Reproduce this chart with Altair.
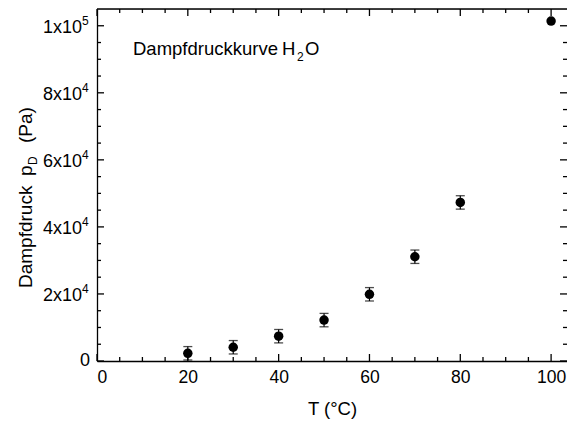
import altair as alt
import pandas as pd

# ---- data ----
T = [20, 30, 40, 50, 60, 70, 80, 100]
p = [2300, 4100, 7400, 12200, 19900, 31100, 47300, 101400]
err = [2000, 2000, 2000, 2000, 2000, 2000, 2000, 0]

x_major = [0, 20, 40, 60, 80, 100]
x_minor = [5, 10, 15, 25, 30, 35, 45, 50, 55, 65, 70, 75, 85, 90, 95]
y_major = [0, 20000, 40000, 60000, 80000, 100000]
y_minor = [5000, 10000, 15000, 25000, 30000, 35000, 45000, 50000, 55000,
           65000, 70000, 75000, 85000, 90000, 95000]
y_label_base = ["0", "2x10", "4x10", "6x10", "8x10", "1x10"]
y_label_exp = ["", "4", "4", "4", "4", "5"]

W, H = 470, 352
FONT = "Liberation Sans"

df = pd.DataFrame({"T": T, "p": p, "lo": [a - b for a, b in zip(p, err)],
                   "hi": [a + b for a, b in zip(p, err)], "err": err})
df_err = df[df["err"] > 0]
df_xmaj = pd.DataFrame({"T": x_major})
df_xmin = pd.DataFrame({"T": x_minor})
df_ymaj = pd.DataFrame({"p": y_major})
df_ymin = pd.DataFrame({"p": y_minor})
df_ylab = pd.DataFrame({"p": y_major, "base": y_label_base, "exp": y_label_exp})

xs = alt.Scale(domain=[0, 103.5], nice=False, zero=False)
ys = alt.Scale(domain=[0, 105000], nice=False)

xaxis = alt.Axis(values=x_major, format="d", ticks=False, grid=False,
                 labelFontSize=17.5, labelPadding=7, labelFont=FONT, labelColor="black",
                 title="T  (°C)", titleFontSize=18.5, titleFontWeight="normal",
                 titleFont=FONT, titleColor="black", titleY=53, titleBaseline="alphabetic",
                 domainColor="black", domainWidth=1.3)
yaxis = alt.Axis(labels=False, ticks=False, grid=False, title=None,
                 domainColor="black", domainWidth=1.3)

X = lambda: alt.X("T:Q", scale=xs, axis=xaxis)
Y = lambda: alt.Y("p:Q", scale=ys, axis=yaxis)

points = alt.Chart(df).mark_circle(size=90, color="black", opacity=1).encode(x=X(), y=Y())
bars = alt.Chart(df_err).mark_rule(color="black", strokeWidth=1.2).encode(
    x=X(), y=alt.Y("lo:Q", scale=ys, axis=yaxis), y2="hi:Q")
cap_lo = alt.Chart(df_err).mark_tick(color="black", orient="horizontal", size=9, thickness=1.3).encode(
    x=X(), y=alt.Y("lo:Q", scale=ys, axis=yaxis))
cap_hi = alt.Chart(df_err).mark_tick(color="black", orient="horizontal", size=9, thickness=1.3).encode(
    x=X(), y=alt.Y("hi:Q", scale=ys, axis=yaxis))

tick_style = dict(color="black", strokeWidth=1.3)
ticks = []
for d, ln in ((df_xmaj, 7), (df_xmin, 4)):
    ticks.append(alt.Chart(d).mark_rule(**tick_style).encode(
        x=X(), y=alt.value(H), y2=alt.value(H - ln)))
    ticks.append(alt.Chart(d).mark_rule(**tick_style).encode(
        x=X(), y=alt.value(0), y2=alt.value(ln)))
for d, ln in ((df_ymaj, 7), (df_ymin, 4)):
    ticks.append(alt.Chart(d).mark_rule(**tick_style).encode(
        y=Y(), x=alt.value(0), x2=alt.value(ln)))
    ticks.append(alt.Chart(d).mark_rule(**tick_style).encode(
        y=Y(), x=alt.value(W), x2=alt.value(W - ln)))

# top frame line
top_line = alt.Chart(pd.DataFrame({"a": [0]})).mark_rule(**tick_style).encode(
    x=alt.value(0), x2=alt.value(W), y=alt.value(0))

ylab_base = alt.Chart(df_ylab[df_ylab["exp"] != ""]).mark_text(
    align="right", baseline="middle", fontSize=18, font=FONT, color="black", dy=2).encode(
    y=Y(), x=alt.value(-15), text="base:N")
ylab_zero = alt.Chart(df_ylab[df_ylab["exp"] == ""]).mark_text(
    align="right", baseline="middle", fontSize=18, font=FONT, color="black", dy=0).encode(
    y=Y(), x=alt.value(-7), text="base:N")
ylab_exp = alt.Chart(df_ylab[df_ylab["exp"] != ""]).mark_text(
    align="left", baseline="middle", fontSize=12, font=FONT, color="black", dy=-5).encode(
    y=Y(), x=alt.value(-15), text="exp:N")

# y-axis title with subscript D (rotated text)
def rot(txt, x, y, size=19):
    return alt.Chart(pd.DataFrame({"t": [txt]})).mark_text(
        angle=270, align="left", baseline="alphabetic", fontSize=size, font=FONT,
        color="black").encode(text="t:N", x=alt.value(x), y=alt.value(y))

ytitle = [rot("Dampfdruck", -65, 279), rot("p", -65, 167), rot("D", -60, 156, 12),
          rot("(Pa)", -65, 134)]

def txt(t, x, y, size=18.5):
    return alt.Chart(pd.DataFrame({"t": [t]})).mark_text(
        align="left", baseline="alphabetic", fontSize=size, font=FONT,
        color="black").encode(text="t:N", x=alt.value(x), y=alt.value(y))

inner = [txt("Dampfdruckkurve", 36, 46), txt("H", 185, 46), txt("2", 200, 52, 12),
         txt("O", 208, 46)]

chart = alt.layer(*ticks, top_line, bars, cap_lo, cap_hi, points, ylab_base, ylab_zero,
                  ylab_exp, *ytitle, *inner).properties(
    width=W, height=H,
    autosize=alt.AutoSizeParams(type="none"),
    padding={"left": 89, "top": 1, "right": 0, "bottom": 60},
).configure_view(stroke=None).configure(background="white")

chart.save("out.html", embed_options={"renderer": "svg", "actions": False})
